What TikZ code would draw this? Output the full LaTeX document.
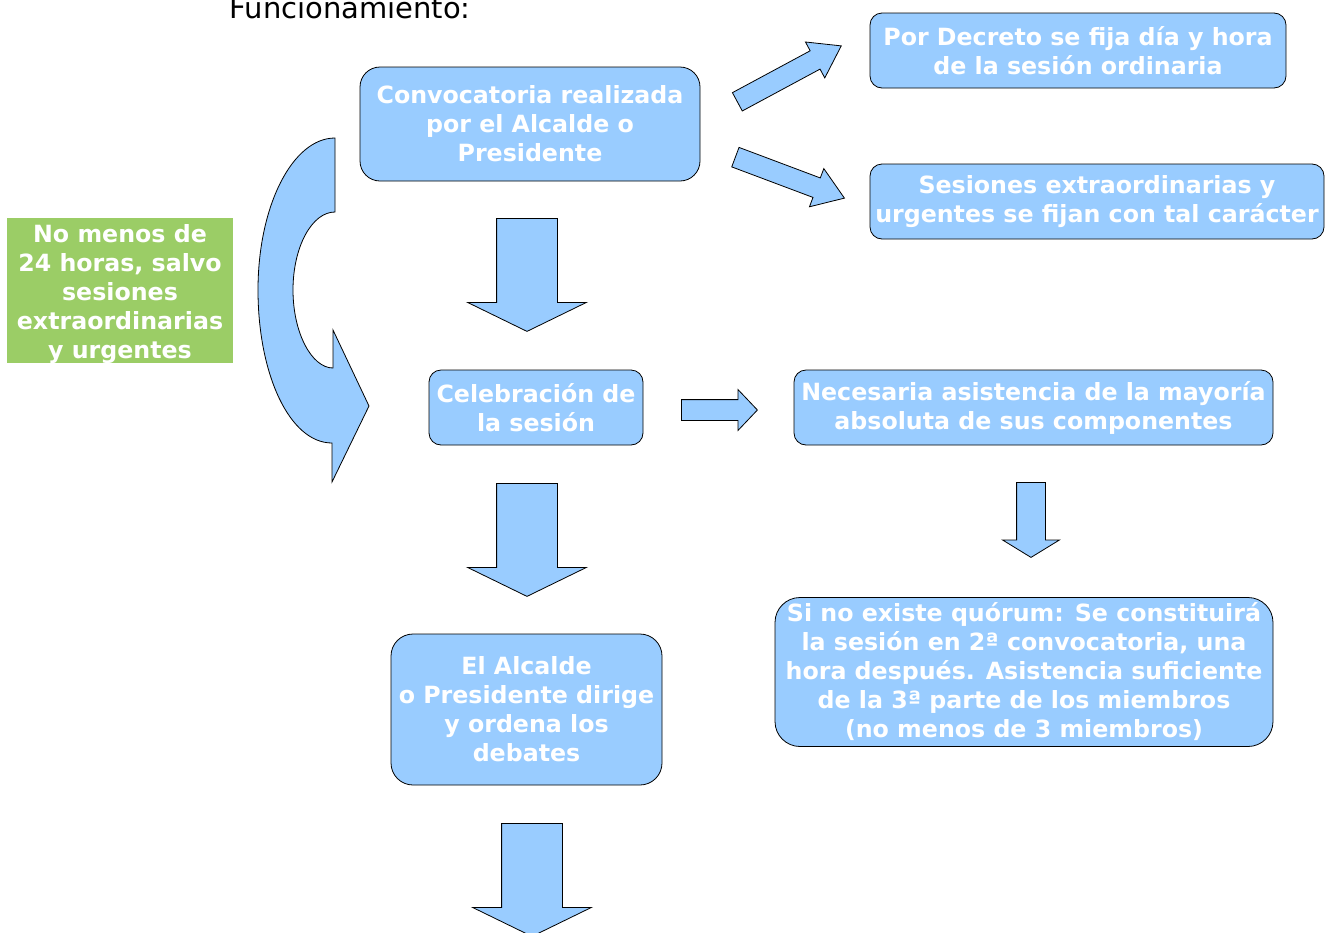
\documentclass[tikz,border=0pt]{standalone}
\usepackage{fontspec}
\setmainfont{DejaVu Sans}
\usetikzlibrary{shapes.arrows}
\definecolor{cajaazul}{RGB}{153,204,255}
\definecolor{cajaverde}{RGB}{155,205,102}
\tikzset{
  textoblanco/.style={align=center, text=white, inner sep=0pt,
    font=\bfseries\fontsize{23.7}{29}\selectfont},
  caja/.style={textoblanco, draw=black, line width=0.8pt, fill=cajaazul, rounded corners=12pt},
  flecha/.style={single arrow, draw=black, line width=0.8pt, fill=cajaazul,
    inner xsep=0pt, anchor=tail},
  flechagrande/.style={flecha, minimum height=113, minimum width=118,
    inner ysep=30, single arrow head extend=29, single arrow tip angle=128},
  flechafina/.style={flecha, minimum width=40, inner ysep=10,
    single arrow head extend=10},
}
\begin{document}
\begin{tikzpicture}[x=1pt,y=-1pt]
\useasboundingbox (0,0) rectangle (1331,932);
\node[anchor=base west, font=\fontsize{29}{35}\selectfont] (titulo) at (226,18) {Funcionamiento:};
% cajas
\node[caja, rounded corners=20pt, minimum width=340, minimum height=114] (convocatoria) at (530,124)
  {Convocatoria realizada\\por el Alcalde o\\Presidente};
\node[caja, minimum width=416, minimum height=75] (decreto) at (1078,50.5)
  {Por Decreto se fija día y hora\\de la sesión ordinaria};
\node[caja, minimum width=454, minimum height=75] (extraordinarias) at (1097,201.5)
  {Sesiones extraordinarias y\\urgentes se fijan con tal carácter};
\node[caja, minimum width=214, minimum height=75] (celebracion) at (536,407.5)
  {Celebración de\\la sesión};
\node[caja, minimum width=479, minimum height=75] (asistencia) at (1033.5,407.5)
  {Necesaria asistencia de la mayoría\\absoluta de sus componentes};
\node[caja, rounded corners=22pt, minimum width=271, minimum height=151] (alcalde) at (526.5,709.5)
  {El Alcalde\\o Presidente dirige\\y ordena los\\debates};
\node[caja, rounded corners=25pt, minimum width=498, minimum height=149] (quorum) at (1024,672)
  {Si no existe quórum: Se constituirá\\la sesión en 2ª convocatoria, una\\hora después. Asistencia suficiente\\de la 3ª parte de los miembros\\(no menos de 3 miembros)};
\node[fill=cajaverde, inner sep=0pt, minimum width=226, minimum height=145] (plazo) at (120,290.5) {};
\node[textoblanco] (plazotexto) at (120,294.5)
  {No menos de\\24 horas, salvo\\sesiones\\extraordinarias\\y urgentes};
% flechas
\node[flechagrande, rotate=-90] (f1) at (527,218) {};
\node[flechagrande, rotate=-90] (f2) at (527,483) {};
\node[flechagrande, rotate=-90] (f3) at (532,823) {};
\node[flechafina, minimum height=76, single arrow tip angle=93] (f4) at (681,410) {};
\node[flecha, rotate=-90, minimum height=75, minimum width=56, inner ysep=14,
  single arrow head extend=14, single arrow tip angle=117] (f5) at (1031,482) {};
\node[flechafina, rotate=28.3, minimum height=118, single arrow tip angle=69] (f6) at (737,102) {};
\node[flechafina, rotate=-20.6, minimum height=116.5, single arrow tip angle=69] (f7) at (735,157) {};
% flecha curva
\draw[line width=0.8pt, fill=cajaazul] (335,138) -- (335,212)
  .. controls (311.8,212) and (293,247) .. (293,290)
  .. controls (293,333) and (311.8,368) .. (333,368)
  -- (333,330) -- (369,406) -- (332,482) -- (332,443)
  .. controls (289.5,443) and (258,374) .. (258,290)
  .. controls (258,206) and (292.5,138) .. (335,138) -- cycle;
\end{tikzpicture}
\end{document}
